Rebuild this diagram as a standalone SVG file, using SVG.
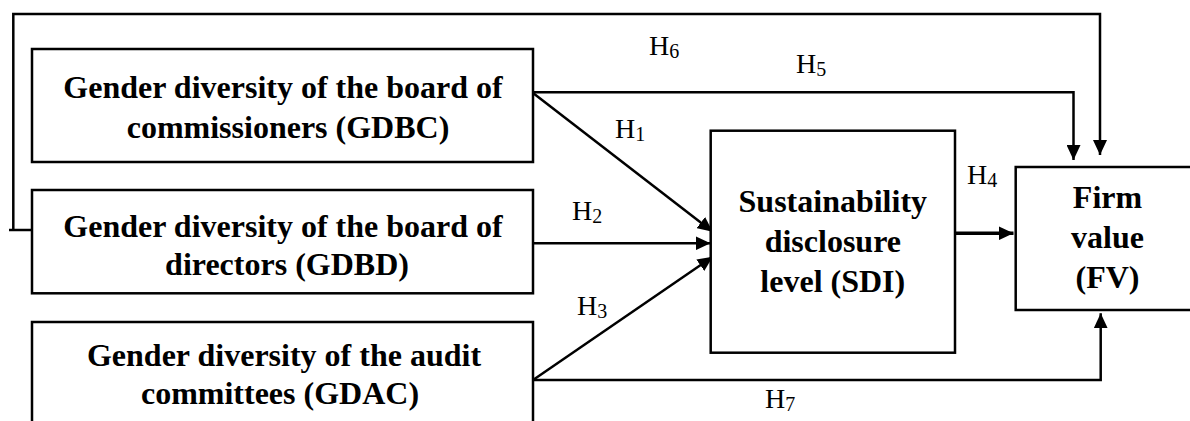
<svg xmlns="http://www.w3.org/2000/svg" width="1190" height="421" viewBox="0 0 1190 421">
<defs>
<marker id="ah" viewBox="0 0 15 14" refX="15" refY="7" markerWidth="15" markerHeight="14" markerUnits="userSpaceOnUse" orient="auto">
<path d="M0,0 L15,7 L0,14 z" fill="#000"/>
</marker>
</defs>
<style>
.box{fill:#fff;stroke:#000;stroke-width:2.5}
.t{font-family:"Liberation Serif","Times New Roman",serif;font-weight:bold;font-size:32px;fill:#000;text-anchor:middle}
.c{fill:none;stroke:#000;stroke-width:2.5}
.h{font-family:"Liberation Serif","Times New Roman",serif;font-size:28px;fill:#000}
.s{font-size:20px}
</style>
<rect width="1190" height="421" fill="#fff"/>
<g id="connectors">
<path class="c" d="M32,230 H9"/>
<path class="c" d="M13.3,230 V14 H1100 V155" marker-end="url(#ah)"/>
<path class="c" d="M533,92.3 H1073.5 V160" marker-end="url(#ah)"/>
<path class="c" d="M533,93 L712.7,231.7" marker-end="url(#ah)"/>
<path class="c" d="M533,243.3 L710.5,243.3" marker-end="url(#ah)"/>
<path class="c" d="M533,380 L712.7,256.7" marker-end="url(#ah)"/>
<path class="c" d="M946,233.3 L1013.5,233.3" style="stroke-width:3.5" marker-end="url(#ah)"/>
<path class="c" d="M533,380 H1100.7 V313.3" marker-end="url(#ah)"/>
</g>
<g id="GDBC">
<rect class="box" x="32" y="49" width="501" height="113"/>
<text class="t" x="283" y="98">Gender diversity of the board of</text>
<text class="t" x="288" y="138">commissioners (GDBC)</text>
</g>
<g id="GDBD">
<rect class="box" x="32" y="190" width="501" height="103.3"/>
<text class="t" x="283" y="237">Gender diversity of the board of</text>
<text class="t" x="287" y="275">directors (GDBD)</text>
</g>
<g id="GDAC">
<rect class="box" x="32" y="322" width="501" height="110"/>
<text class="t" x="284" y="366">Gender diversity of the audit</text>
<text class="t" x="280" y="404">committees (GDAC)</text>
</g>
<g id="SDI">
<rect class="box" x="710.7" y="130.7" width="244.3" height="222"/>
<text class="t" x="832.8" y="212">Sustainability</text>
<text class="t" x="832.8" y="252">disclosure</text>
<text class="t" x="832.8" y="292">level (SDI)</text>
</g>
<g id="FV">
<rect class="box" x="1015.7" y="167" width="190" height="143"/>
<text class="t" x="1107.5" y="208">Firm</text>
<text class="t" x="1107.5" y="248">value</text>
<text class="t" x="1107.5" y="288">(FV)</text>
</g>
<g id="labels">
<text class="h" x="649" y="55">H<tspan class="s" dy="3">6</tspan></text>
<text class="h" x="796" y="73">H<tspan class="s" dy="3">5</tspan></text>
<text class="h" x="615" y="138">H<tspan class="s" dy="3">1</tspan></text>
<text class="h" x="572" y="220">H<tspan class="s" dy="3">2</tspan></text>
<text class="h" x="577" y="315">H<tspan class="s" dy="3">3</tspan></text>
<text class="h" x="967" y="184">H<tspan class="s" dy="3">4</tspan></text>
<text class="h" x="765" y="408">H<tspan class="s" dy="3">7</tspan></text>
</g>
</svg>
